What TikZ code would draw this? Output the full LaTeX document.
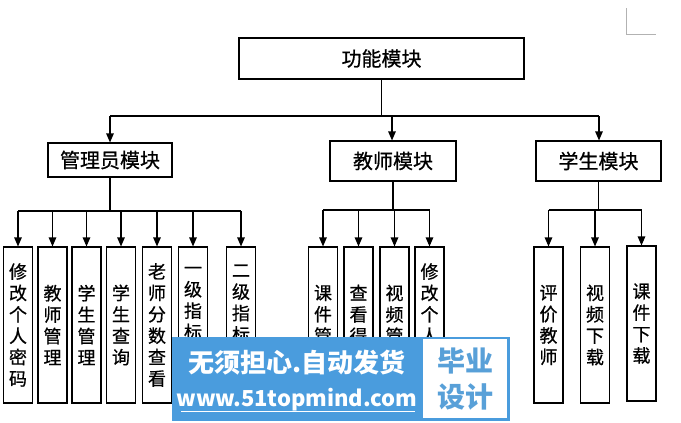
\documentclass[tikz,border=0pt]{standalone}
\usepackage{fontspec}
\setmainfont{Noto Sans CJK SC}[UprightFeatures={FakeBold=0.7}]
\newfontfamily\wmfont{Noto Sans CJK SC}
\usetikzlibrary{arrows.meta}
\definecolor{wmblue}{RGB}{74,156,221}
\definecolor{wmtext}{RGB}{88,160,216}
\begin{document}
\begin{tikzpicture}[x=1pt,y=-1pt,
  mod/.style={draw=black, line width=1.1pt, inner sep=0pt, font=\fontsize{20}{24}\selectfont},
  leaf/.style={draw=black, line width=1.1pt, inner sep=0pt, minimum width=29pt, minimum height=156pt, align=center, font=\fontsize{18}{21.4}\selectfont},
  vtext/.style={inner sep=0pt, align=center, font=\fontsize{18}{21.4}\selectfont},
  conn/.style={line width=1.1pt},
  arr/.style={line width=1.1pt, -{Triangle[length=9pt,width=7.5pt]}}]
\useasboundingbox (0,0) rectangle (681,423);
% corner mark
\draw[gray!60, line width=0.8pt] (626,8) -- (626,34) -- (656,34);
% modules
\node[mod, minimum width=285pt, minimum height=41pt] (top) at (381.5,58.5) {功能模块};
\node[mod, minimum width=124pt, minimum height=34pt] (adm) at (110,160) {管理员模块};
\node[mod, minimum width=126pt, minimum height=40pt] (tea) at (393,161) {教师模块};
\node[mod, minimum width=125pt, minimum height=40pt] (stu) at (598.5,161) {学生模块};
\coordinate (j0) at (382,116);
\coordinate (jA) at (110,116);
\coordinate (jT) at (392,116);
\coordinate (jS) at (599,116);
\draw[conn] (top.south) -- (top.south |- j0);
\draw[conn] (jA) -- (jS);
\draw[arr] (jA) -- (adm.north);
\draw[arr] (jT) -- (jT |- tea.north);
\draw[arr] (jS) -- (jS |- stu.north);
% admin leaves
\node[leaf] (a1) at (18,325) {修\\改\\个\\人\\密\\码};
\node[leaf] (a2) at (52.5,325) {教\\师\\管\\理};
\node[leaf] (a3) at (86.5,325) {学\\生\\管\\理};
\node[leaf] (a4) at (121,325) {学\\生\\查\\询};
\node[leaf] (a5) at (157,325) {老\\师\\分\\数\\查\\看};
\node[leaf] (a6) at (193,325) {};
\node[leaf] (a7) at (241,325) {};
\node[vtext] (a6t) at (193,303.6) {一\\级\\指\\标};
\node[vtext] (a7t) at (241,303.6) {二\\级\\指\\标};
\coordinate (hA) at (110,211);
\draw[conn] (adm.south) -- (hA);
\draw[conn] (a1.north |- hA) -- (a7.north |- hA);
\foreach \n in {a1,a2,a3,a4,a5,a6,a7} \draw[arr] (\n.north |- hA) -- (\n.north);
% teacher leaves
\node[leaf] (t1) at (323,325) {};
\node[leaf] (t2) at (358.5,325) {};
\node[leaf] (t3) at (394.5,325) {};
\node[leaf] (t4) at (429.5,325) {};
\node[vtext] (t1t) at (323,314.4) {课\\件\\管};
\node[vtext] (t2t) at (358.5,314.4) {查\\看\\得};
\node[vtext] (t3t) at (394.5,314.4) {视\\频\\管};
\node[vtext] (t4t) at (429.5,303.6) {修\\改\\个\\人};
\coordinate (hT) at (393,210);
\draw[conn] (tea.south) -- (hT);
\draw[conn] (t1.north |- hT) -- (t4.north |- hT);
\foreach \n in {t1,t2,t3,t4} \draw[arr] (\n.north |- hT) -- (\n.north);
% student leaves
\node[leaf] (s1) at (548.5,325) {评\\价\\教\\师};
\node[leaf] (s2) at (595,325) {视\\频\\下\\载};
\node[leaf, minimum height=155pt] (s3) at (641.5,323.5) {课\\件\\下\\载};
\coordinate (hS) at (598.5,210);
\draw[conn] (stu.south) -- (hS);
\draw[conn] (s1.north |- hS) -- (s3.north |- hS);
\foreach \n in {s1,s2,s3} \draw[arr] (\n.north |- hS) -- (\n.north);
% watermark
\fill[wmblue] (172,337) rectangle (510,421);
\fill[white] (423,339) rectangle (507,418);
\node[text=white, inner sep=0pt, font=\wmfont\fontsize{26}{30}\selectfont\bfseries] (wm1) at (297,363) {无须担心.自动发货};
\node[text=white, inner sep=0pt, font=\wmfont\fontsize{22}{26}\selectfont\bfseries] (wm2) at (297,400) {www.51topmind.com};
\draw[white, line width=0.8pt] (181,411) -- (415,411);
\node[text=wmtext, inner sep=0pt, font=\wmfont\fontsize{28}{32}\selectfont\bfseries] (wm3) at (465,361) {毕业};
\node[text=wmtext, inner sep=0pt, font=\wmfont\fontsize{28}{32}\selectfont\bfseries] (wm4) at (465,397) {设计};
\end{tikzpicture}
\end{document}
